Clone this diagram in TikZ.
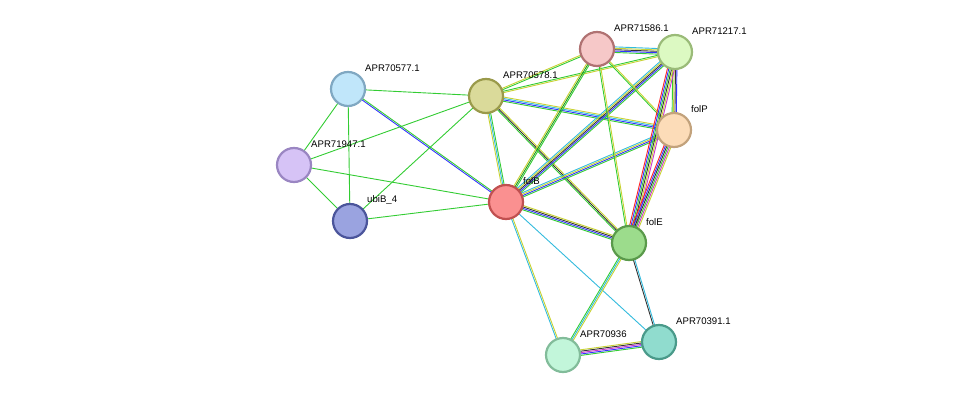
\documentclass[tikz,border=0pt]{standalone}
\usepackage{fontspec}
\setmainfont{Liberation Sans}
\usetikzlibrary{calc,backgrounds}
\definecolor{eg}{HTML}{33CC33}
\definecolor{eb}{HTML}{3333FF}
\definecolor{ek}{HTML}{333333}
\definecolor{ey}{HTML}{C8D232}
\definecolor{ec}{HTML}{33BBDD}
\definecolor{em}{HTML}{CC33CC}
\definecolor{er}{HTML}{FF2222}
\definecolor{ed}{HTML}{229922}
\tikzset{
  prot/.style={circle,minimum size=34pt,inner sep=0pt,line width=2.2pt},
  lab/.style={anchor=west,font=\fontsize{9.6}{11}\selectfont,inner sep=0pt}
}
\newcommand{\pnode}[6]{%
  \definecolor{f#1}{HTML}{#4}\definecolor{d#1}{HTML}{#5}%
  \node[prot,fill=f#1,draw=d#1] (#1) at (#2,#3) {};
  \node[lab] (#1-l) at (#2+17,#3-21) {#6};}
\newcommand{\medge}[3]{%
  \foreach \c [count=\i] in {#3} {\xdef\nn{\i}}%
  \foreach \c [count=\i] in {#3} {%
    \pgfmathsetmacro{\off}{(\i-(\nn+1)/2)*1.4}%
    \draw[\c,line width=0.9pt] ($(#1)!\off pt!90:(#2)$) -- ($(#2)!\off pt!-90:(#1)$);}}
\begin{document}
\begin{tikzpicture}[x=1pt,y=-1pt]
\useasboundingbox (0,0) rectangle (976,401);
\pnode{a77}{348}{89}{C0E6FA}{80A8C2}{APR70577.1}
\pnode{a47}{294}{165}{D6C3F6}{9A86C2}{APR71947.1}
\pnode{ub}{350}{221}{9AA3E0}{4B559B}{ubiB\_4}
\pnode{a78}{486}{96}{DADA9A}{9A9A4B}{APR70578.1}
\pnode{fB}{506}{202}{FA9090}{C05050}{folB}
\pnode{a86}{597}{49}{F6C8C8}{B07272}{APR71586.1}
\pnode{a17}{675}{52}{DCF9C2}{9ABB78}{APR71217.1}
\pnode{fP}{674}{130}{FCDCB8}{C2A27C}{folP}
\pnode{fE}{629}{243}{9CDC8C}{5A9A4B}{folE}
\pnode{a91}{659}{342}{90DCCE}{4A9A8A}{APR70391.1}
\pnode{a36}{563}{355}{C2F6DA}{82BC9A}{APR70936}
\begin{pgfonlayer}{background}
\medge{a77}{a78}{eg}
\medge{a77}{a47}{eg}
\medge{a77}{ub}{eg}
\medge{a77}{fB}{eb,eg}
\medge{a47}{fB}{eg}
\medge{a47}{ub}{eg}
\medge{a47}{a78}{eg}
\medge{ub}{fB}{eg}
\medge{ub}{a78}{eg}
\medge{a78}{fB}{ey,ec,eg}
\medge{a78}{a86}{eg,ey}
\medge{a78}{a17}{ey,eg}
\medge{a78}{fP}{eg,eb,ec,ey}
\medge{a78}{fE}{eg,ek,ey}
\medge{fB}{a86}{eg,ed,ey}
\medge{fB}{a17}{eg,eb,ek,ey,ec}
\medge{fB}{fP}{eg,eb,ey,ec}
\medge{fB}{fE}{eg,eb,ek,ey}
\medge{fB}{a36}{ec,ey}
\medge{fB}{a91}{ec}
\medge{a86}{a17}{eg,eb,ek,ey,ec}
\medge{a86}{fP}{eg,ey}
\medge{a86}{fE}{eg,ey}
\medge{a17}{fP}{eg,ey,ek,eb}
\medge{a17}{fE}{er,eb,eg,ek,ey,em}
\medge{fP}{fE}{er,eb,ek,eg,em,ey}
\medge{fE}{a36}{eg,ec,ey}
\medge{fE}{a91}{ek,ec}
\medge{a36}{a91}{eg,eb,em,ek,ey}
\end{pgfonlayer}
\end{tikzpicture}
\end{document}
